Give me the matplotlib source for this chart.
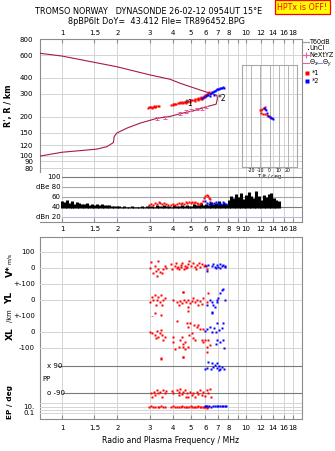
import numpy as np
import matplotlib
matplotlib.use("Agg")
import matplotlib.pyplot as plt
from matplotlib.lines import Line2D
from matplotlib.transforms import blended_transform_factory as blend

W, H = 335, 451
RED, BLUE = "#ff0000", "#0000ff"
CRIMSON, PINK = "#a8194a", "#e8609c"
GRID, FRAME, DARK = "#d4d4d4", "#8c8c8c", "#7a7a7a"

# frequency axis
freq_ticks = [1, 1.5, 2, 3, 4, 5, 6, 7, 8, 9, 10, 12, 14, 16, 18]
freq_labels = ["1", "1.5", "2", "3", "4", "5", "6", "7", "8", "", "10", "12", "14", "16", "18"]
amp_freq_labels = ["1", "1.5", "2", "3", "4", "5", "6", "7", "8", "9", "10", "12", "14", "16", "18"]
height_ticks = [80, 90, 100, 120, 150, 200, 300, 400, 600, 800]

# model profile (lower trace up to the nose, back along the upper trace)
model_f = [0.759, 1.0, 1.54, 1.75, 1.90, 1.92, 1.98, 2.25, 2.65, 3.27, 3.86, 4.38, 5.17, 6.11,
           6.87, 6.98, 6.93, 6.37, 5.62, 4.38, 3.86, 3.01, 1.98, 1.0, 0.759]
model_h = [99, 106, 112, 117, 126, 140, 149, 163, 178, 194, 201, 211, 222, 239,
           250, 277, 293, 304, 322, 363, 390, 421, 488, 590, 620]

nexyz_f = [3.28, 3.63, 4.38, 4.69, 5.02, 5.44, 5.77, 6.06]
nexyz_h = [194, 198, 212, 219, 225, 229, 232, 239]

# echo traces, virtual range (km)
x1_f = [2.93, 2.99, 3.05, 3.12, 3.18, 3.24, 3.31, 3.38, 3.92, 3.98, 4.06, 4.15, 4.24, 4.32,
        4.40, 4.48, 4.57, 4.66, 4.75, 4.84, 4.93, 5.02, 5.11, 5.20, 5.30, 5.40, 5.50, 5.60,
        5.70, 5.80, 5.90, 6.00, 6.10, 6.20, 6.30, 5.45, 5.65, 5.85, 5.25, 4.95,
        2.96, 3.09, 3.15, 3.21, 4.02, 4.11, 4.36, 4.52, 4.71, 5.55, 5.75, 5.95, 6.05]
x1_h = [235, 236, 238, 239, 238, 240, 241, 240, 247, 248, 251, 253, 254, 256,
        257, 258, 260, 260, 262, 263, 265, 267, 268, 270, 272, 274, 277, 279,
        282, 286, 290, 295, 301, 307, 311, 268, 273, 281, 264, 261,
        238, 235, 241, 237, 250, 249, 259, 255, 257, 272, 276, 284, 292]
x2_f = [5.77, 5.91, 6.06, 6.14, 6.24, 6.33, 6.45, 6.53, 6.62, 6.70, 6.78, 6.87, 6.96, 7.04,
        7.13, 7.22, 7.31, 7.40, 7.50, 7.60, 6.40, 6.65]
x2_h = [279, 285, 289, 292, 296, 300, 305, 308, 311, 314, 317, 322, 326, 329,
        330, 332, 334, 335, 337, 336, 291, 297]

# tilt inset
tilt1_deg = [-10.5, -9.5, -8, -6.5, -5, -9, -7, -5, -3, -1, 0.5]
tilt1_h = [224, 226, 229, 233, 237, 214, 211, 209, 206, 202, 199]
tilt2_deg = [-5.6, -4, -3, -1.3, 1.6, 4, -4.5, 0.2, 2.8]
tilt2_h = [235, 225, 212, 202, 197, 191, 231, 200, 194]

# echo amplitude (dB)
amp_f = np.geomspace(1, 15, 88)
amp_db = [52, 50, 54, 48, 53, 47, 51, 49,
          47, 46, 48, 45, 47, 44, 46, 45, 46, 44, 45, 44,
          43, 42, 43, 42, 41, 42, 41, 41, 42, 40, 41, 41, 42, 41, 42,
          42, 43, 41, 44, 42, 43, 45, 42, 43, 41, 44, 43, 42, 45, 43, 44, 42, 43, 46, 44, 45,
          48, 44, 47, 45, 50, 46, 48, 52, 47, 49, 46,
          55, 62, 58, 66, 60, 68, 57, 64, 70, 62, 59, 72, 61, 55, 64, 60, 66, 67, 58, 54, 52]
amp1_f = [2.98, 3.05, 3.12, 3.2, 3.28, 3.35, 3.42, 3.5, 3.58, 3.66, 3.75, 3.9, 4.0, 4.1, 4.2,
          4.3, 4.4, 4.5, 4.6, 4.7, 4.8, 4.9, 5.0, 5.1, 5.2, 5.3, 5.4, 5.5, 5.6, 5.7, 5.8, 5.9,
          6.0, 6.1, 6.2, 6.3, 6.4]
amp1_db = [44, 46, 45, 48, 47, 50, 48, 46, 49, 47, 45, 44, 46, 45, 47,
           48, 46, 49, 47, 50, 48, 51, 49, 50, 48, 50, 49, 47, 46, 49, 53, 58,
           61, 63, 62, 59, 56]
amp2_f = [6.0, 6.1, 6.25, 6.4, 6.55, 6.7, 6.85, 7.0, 7.15, 7.3, 7.45, 7.6, 7.75]
amp2_db = [52, 49, 47, 50, 46, 48, 51, 47, 49, 46, 50, 48, 47]

# Doppler velocity V* (m/s)
v1_f = [3.05, 3.01, 3.20, 3.24, 3.33, 3.41, 3.54, 3.68, 3.27, 3.50, 3.12, 3.31, 3.63,
        3.93, 3.96, 4.17, 4.27, 4.31, 4.44, 4.48, 4.66, 4.74, 4.86, 4.90, 4.99, 5.12, 5.25,
        5.38, 5.51, 5.62, 5.76, 5.90, 4.12, 4.41, 4.58, 4.80, 4.23, 5.33, 6.00, 6.14]
v1 = [41, 0, 14, -15, -6, -21, -6, 0, -46, -27, -31, 47, 14,
      27, -6, 31, 10, -6, 21, 35, 14, 0, 27, 47, 14, 31, 6,
      21, 35, 10, 27, 14, 14, 10, -6, 10, 0, -6, 21, -6]
v2_f = [6.06, 6.24, 6.14, 6.50, 6.62, 6.78, 6.92, 7.05, 7.22, 7.35, 7.50, 7.65, 6.86, 7.24, 7.70]
v2 = [14, 21, -15, 14, 27, 10, 21, 6, 27, 14, 21, 10, 0, 0, 14]

# echo location YL (km)
yl1_f = [3.01, 3.07, 3.20, 3.27, 3.34, 3.41, 3.44, 3.48, 3.24, 3.11, 3.55, 3.63, 4.02, 4.20,
         4.29, 4.38, 4.47, 4.52, 4.60, 4.72, 4.82, 4.86, 4.96, 5.07, 5.17, 5.28, 5.39, 5.50,
         5.62, 5.74, 5.86, 6.23, 6.10, 3.07, 3.20, 3.44, 3.55, 4.86, 4.56]
yl1 = [-11, 21, 32, 4, 21, -11, 32, -32, -32, 4, 0, 11, 4, -11,
       -32, -4, -21, 49, 4, -11, -42, 0, -17, -4, 11, -11, 4, -32,
       -4, -25, 11, 42, -11, -106, -84, -95, -116, -70, 53]
yl2_f = [6.10, 6.37, 6.50, 6.64, 6.78, 6.93, 7.07, 7.22, 7.37, 7.53, 7.69, 6.98, 6.50, 6.56]
yl2 = [-32, 0, -11, -32, -42, -11, 11, 42, 63, 68, 0, 0, -84, -74]

# echo location XL (km)
xl1_f = [3.01, 3.07, 3.20, 3.27, 3.34, 3.41, 3.44, 3.48, 3.63, 3.24, 3.52, 3.44, 4.02, 4.02,
         4.23, 4.38, 4.47, 4.52, 4.56, 4.66, 4.76, 4.86, 4.92, 4.96, 5.07, 5.13, 5.22, 5.28,
         5.39, 5.50, 5.62, 5.74, 5.86, 5.98, 6.10, 6.23, 4.56, 4.66, 4.86, 6.37, 5.81, 4.29, 4.11]
xl1 = [2, -8, -19, 8, -30, -8, 13, -19, -30, -40, -51, -166, -30, -61,
       70, -51, -30, -93, -72, -61, 55, 34, -19, 55, -8, -40, 44, -51,
       30, 44, 17, -51, -61, -51, -93, -51, -156, -103, -93, -82, 17, -93, -103]
xl2_f = [5.98, 6.10, 6.37, 6.50, 6.70, 6.87, 6.98, 7.13, 7.37, 7.48, 6.93, 7.22, 7.53, 7.59, 6.87]
xl2 = [8, 17, 30, 2, 23, 2, 55, 13, 23, 55, -51, -61, -51, -97, -72]

# polarization PP (deg)
pp1_f = [3.44, 4.52, 6.10,
         3.04, 3.16, 3.20, 3.27, 3.34, 3.41, 3.48, 3.55, 3.63, 3.68, 3.96, 4.02, 4.20, 4.29,
         4.38, 4.47, 4.56, 4.66, 4.76, 4.86, 4.96, 5.07, 5.17, 5.28, 5.39, 5.50, 5.62, 5.74,
         5.86, 5.98, 6.10, 6.23, 6.37, 6.42, 4.34, 4.72, 3.07]
pp1 = [137, 147, 179,
       -90, -80, -101, -69, -90, -80, -112, -69, -90, -73, -73, -90, -69, -80,
       -64, -95, -80, -69, -90, -112, -80, -101, -88, -112, -80, -95, -69, -101,
       -80, -107, -69, -90, -64, -112, -101, -112, -112]
pp2_f = [5.98, 6.10, 6.17, 6.50, 6.64, 6.78, 6.93, 6.98, 7.13, 7.24, 7.40, 7.59, 7.09, 6.47]
pp2 = [65, 72, 115, 104, 82, 93, 72, 104, 87, 65, 78, 67, 61, 65]

# elevation EP (deg)
ep1_f = [2.97, 3.05, 3.12, 3.2, 3.3, 3.38, 3.45, 3.55, 3.62, 3.92, 4.0, 4.1, 4.2, 4.3, 4.4,
         4.5, 4.6, 4.7, 4.8, 4.9, 5.0, 5.1, 5.2, 5.3, 5.4, 5.5, 5.6, 5.7, 5.8, 5.9, 6.0,
         6.1, 6.2]
ep1 = [10, 12, 9, 11, 8, 10, 13, 9, 11, 10, 12, 9, 11, 10, 8,
       12, 10, 11, 9, 10, 12, 8, 10, 11, 9, 13, 10, 8, 11, 9, 6,
       4, 7]
ep2_f = [5.95, 6.05, 6.15, 6.3, 6.45, 6.6, 6.75, 6.9, 7.05, 7.2, 7.35, 7.5, 7.65, 7.8]
ep2 = [14, 12, 16, 13, 11, 14, 12, 13, 15, 12, 14, 13, 12, 14]

FMIN, FMAX = 0.759, 20.1
plt.rcParams["font.family"] = ["DejaVu Sans"]

fig = plt.figure(figsize=(W / 100, H / 100), dpi=100)


def px_axes(x0, y0, x1, y1):
    return fig.add_axes([x0 / W, 1 - y1 / H, (x1 - x0) / W, (y1 - y0) / H])


def fx(x):
    return x / W


def fy(y):
    return 1 - y / H


def freq_axis(ax):
    ax.set_xscale("log")
    ax.set_xlim(FMIN, FMAX)
    ax.xaxis.set_minor_locator(plt.NullLocator())
    ax.set_xticks(freq_ticks)
    for f in freq_ticks:
        ax.axvline(f, color=GRID, lw=0.7, zorder=0)


def strip(ax):
    ax.set_facecolor("none")
    ax.set_xscale("log")
    ax.set_xlim(FMIN, FMAX)
    ax.axis("off")


dots = dict(ls="none", marker="s", ms=1.6, mec="none")

# ---- header ----
fig.text(fx(149), fy(12), "TROMSO NORWAY   DYNASONDE 26-02-12 0954UT 15°E",
         ha="center", va="center", fontsize=5.9)
fig.text(fx(156), fy(21), "8pBP6It DoY=  43.412 File= TR896452.BPG",
         ha="center", va="center", fontsize=5.9)
fig.text(fx(302.5), fy(7.3), "HPTx is OFF!", ha="center", va="center", fontsize=5.8,
         color=RED, bbox=dict(boxstyle="square,pad=0.3", fc="#ffff00", ec=RED, lw=0.9))

# ---- range panel ----
ax_h = px_axes(40, 39, 302, 172)
freq_axis(ax_h)
ax_h.set_yscale("log")
ax_h.set_ylim(74.5, 800)
ax_h.set_yticks(height_ticks)
ax_h.set_yticklabels([str(v) for v in height_ticks])
ax_h.yaxis.set_minor_locator(plt.NullLocator())
for v in height_ticks:
    ax_h.axhline(v, color=GRID, lw=0.7, zorder=0)
ax_h.xaxis.set_ticks_position("top")
ax_h.set_xticklabels(freq_labels)
ax_h.tick_params(axis="x", direction="in", length=3, color=FRAME, labelsize=5, pad=2)
ax_h.tick_params(axis="y", length=0, labelsize=5, pad=5)
for side in ("top", "left", "right"):
    ax_h.spines[side].set_color(FRAME)
    ax_h.spines[side].set_linewidth(0.8)
ax_h.spines["bottom"].set_visible(False)
ax_h.set_ylabel("R', R / km", fontsize=5.8, fontweight="bold", labelpad=5)

ax_h.plot(model_f, model_h, color=CRIMSON, lw=0.8, zorder=3)
ax_h.errorbar(nexyz_f, nexyz_h, yerr=[[5] * len(nexyz_h), [5] * len(nexyz_h)], fmt="none",
              ecolor=PINK, elinewidth=0.7, capsize=1.3, capthick=0.7, zorder=4)
ax_h.plot(x1_f, x1_h, color=RED, zorder=5, **dots)
ax_h.plot(x2_f, x2_h, color=BLUE, zorder=5, **dots)
ax_h.text(4.62, 255, "*1", fontsize=5.5, va="center", zorder=6)
ax_h.text(6.98, 278, "*2", fontsize=5.5, va="center", zorder=6)

# tilt inset
ax_t = px_axes(242, 65, 297, 167.3)
ax_t.set_facecolor("none")
ax_t.set_xlim(-30, 30)
ax_t.set_yscale("log")
ax_t.set_ylim(81, 503)
ax_t.set_yticks([])
ax_t.yaxis.set_minor_locator(plt.NullLocator())
ax_t.set_xticks([-20, -10, 0, 10, 20])
ax_t.set_xticklabels(["-20", "-10", "0", "10", "20"])
ax_t.tick_params(axis="x", length=0, labelsize=3.3, pad=0.8)
for t in (-20, -10, 0, 10, 20):
    ax_t.axvline(t, color="#b4b4b4", lw=0.7, zorder=0)
for s in ax_t.spines.values():
    s.set_color("#a8a8a8")
    s.set_linewidth(0.8)
ax_t.set_xlabel("Tilt / deg", fontsize=3.8, labelpad=0.3)
ax_t.plot(tilt1_deg, tilt1_h, color=RED, **dots)
ax_t.plot(tilt2_deg, tilt2_h, color=BLUE, **dots)

# ---- amplitude panel ----
ax_a = px_axes(40, 172, 302, 222)
freq_axis(ax_a)
ax_a.set_facecolor("none")
ax_a.set_ylim(10.74, 109.26)
ax_a.set_yticks([])
ax_a.set_xticklabels(amp_freq_labels)
ax_a.tick_params(axis="x", direction="in", length=3, color=FRAME, labelsize=5, pad=3)
for side in ("top", "left"):
    ax_a.spines[side].set_visible(False)
for side in ("right", "bottom"):
    ax_a.spines[side].set_color(FRAME)
    ax_a.spines[side].set_linewidth(0.8)
x_in = (62 - 40) / 262
for v, c in [(100, DARK), (80, "#a8a8a8"), (60, "#a8a8a8"), (40, DARK), (20, "#b8b8ec")]:
    ax_a.axhline(v, xmin=x_in, xmax=1, color=c, lw=0.8, zorder=1)
lab_tr = blend(ax_a.transAxes, ax_a.transData)
for v, s in [(100, "100"), (80, "dBe 80"), (60, "60"), (40, "40"), (20, "dBn 20")]:
    ax_a.text(x_in - 0.005, v, s, transform=lab_tr, ha="right", va="center", fontsize=5)
ax_a.vlines(amp_f, 39, amp_db, color="black", lw=2.2, zorder=2)
ax_a.plot(amp1_f, amp1_db, color=RED, zorder=3, **dots)
ax_a.plot(amp2_f, amp2_db, color=BLUE, zorder=3, **dots)

# ---- legend ----
leg = [
    (42, "line", "#a0a0a0", "T60dB"),
    (48.5, "dot", "black", "UnCl"),
    (55, "plus", PINK, "NeXtYZ"),
    (72.7, "sq", RED, "*1"),
    (80.7, "sq", BLUE, "*2"),
]
for y, kind, col, lab in leg:
    if kind == "line":
        fig.add_artist(Line2D([fx(303), fx(309)], [fy(y)] * 2, color=col, lw=0.9))
    elif kind == "dot":
        fig.add_artist(Line2D([fx(308)], [fy(y)], ls="none", marker="s", ms=0.8, color=col, mec="none"))
    elif kind == "plus":
        fig.add_artist(Line2D([fx(303), fx(309)], [fy(y)] * 2, color=col, lw=0.7))
        fig.add_artist(Line2D([fx(306)], [fy(y)], ls="none", marker="+", ms=4, mew=0.8, color=col))
    else:
        fig.add_artist(Line2D([fx(307)], [fy(y)], ls="none", marker="s", ms=2.6, color=col, mec="none"))
    fig.text(fx(312 if kind == "sq" else 309.5), fy(y), lab, fontsize=4.7, va="center")
fig.add_artist(Line2D([fx(302), fx(308.5)], [fy(63.3)] * 2, color=PINK, lw=0.8))
fig.text(fx(309), fy(63.3), r"$\Theta_x$", fontsize=4.7, va="center")
fig.add_artist(Line2D([fx(316.5), fx(322)], [fy(63.3)] * 2, color="#8c8cf0", lw=0.8))
fig.text(fx(322.5), fy(63.3), r"$\Theta_y$", fontsize=4.7, va="center")

# ---- lower panel frame ----
ax_b = px_axes(40, 237, 302, 419)
freq_axis(ax_b)
ax_b.set_ylim(0, 1)
ax_b.set_yticks([])
ax_b.set_xticklabels(freq_labels)
ax_b.tick_params(axis="x", direction="in", length=3, color=FRAME, labelsize=5, pad=4)
for s in ax_b.spines.values():
    s.set_color(FRAME)
    s.set_linewidth(0.8)
ax_b.set_xlabel("Radio and Plasma Frequency / MHz", fontsize=5.6, labelpad=4)


def left_labels(ax, items, x=-0.02, size=5):
    tr = blend(ax.transAxes, ax.transData)
    for v, s in items:
        ax.text(x, v, s, transform=tr, ha="right", va="center", fontsize=size)


ax_v = px_axes(40, 237, 302, 284.3)
strip(ax_v)
ax_v.set_ylim(-100, 195.6)
for v in (100, 0):
    ax_v.axhline(v, color=GRID, lw=0.7, zorder=0)
left_labels(ax_v, [(100, "100"), (0, "0"), (-100, "+-100")])
ax_v.plot(v1_f, v1, color=RED, **dots)
ax_v.plot(v2_f, v2, color=BLUE, **dots)

ax_yl = px_axes(40, 284.3, 302, 316)
strip(ax_yl)
ax_yl.set_ylim(-100, 100)
for v in (100, 0, -100):
    ax_yl.axhline(v, color=GRID, lw=0.7, zorder=0)
left_labels(ax_yl, [(0, "0"), (-100, "+-100")])
ax_yl.plot(yl1_f, yl1, color=RED, **dots)
ax_yl.plot(yl2_f, yl2, color=BLUE, **dots)

ax_xl = px_axes(40, 316, 302, 365)
strip(ax_xl)
ax_xl.set_ylim(-206, 100)
for v in (0, -100):
    ax_xl.axhline(v, color=GRID, lw=0.7, zorder=0)
left_labels(ax_xl, [(0, "0"), (-100, "-100")])
ax_xl.plot(xl1_f, xl1, color=RED, **dots)
ax_xl.plot(xl2_f, xl2, color=BLUE, **dots)

ax_pp = px_axes(40, 350, 302, 400)
strip(ax_pp)
ax_pp.set_ylim(-133.4, 190.4)
ax_pp.axhline(90, xmin=(58 - 40) / 262, color=DARK, lw=0.8, zorder=0)
ax_pp.axhline(-90, xmin=(63 - 40) / 262, color=DARK, lw=0.8, zorder=0)
pp_tr = blend(ax_pp.transAxes, ax_pp.transData)
ax_pp.text(6.7 / 262, 90, "x 90", transform=pp_tr, va="center", fontsize=5)
ax_pp.text(2.7 / 262, 0, "PP", transform=pp_tr, va="center", fontsize=5)
ax_pp.text(6.7 / 262, -90, "o -90", transform=pp_tr, va="center", fontsize=5)
ax_pp.plot(pp1_f, pp1, color=RED, **dots)
ax_pp.plot(pp2_f, pp2, color=BLUE, **dots)

ax_ep = px_axes(40, 400, 302, 419)
strip(ax_ep)
ax_ep.set_yscale("log")
ax_ep.set_ylim(1.87e-3, 1072)
for v in (100, 10, 1, 0.1):
    ax_ep.axhline(v, color=GRID, lw=0.7, zorder=0)
left_labels(ax_ep, [(10, "10."), (0.1, "0.1")])
ax_ep.plot(ep1_f, ep1, color=RED, **dots)
ax_ep.plot(ep2_f, ep2, color=BLUE, **dots)

# side labels of the lower panel
fig.text(fx(10), fy(271), "V*", rotation=90, ha="center", va="center", fontsize=6.5, fontweight="bold")
fig.text(fx(10), fy(258), "m/s", rotation=90, ha="center", va="center", fontsize=4.3)
fig.text(fx(10), fy(298), "YL", rotation=90, ha="center", va="center", fontsize=6.5, fontweight="bold")
fig.text(fx(10), fy(316), "/km", rotation=90, ha="center", va="center", fontsize=4.8)
fig.text(fx(10), fy(334), "XL", rotation=90, ha="center", va="center", fontsize=6.5, fontweight="bold")
fig.text(fx(10), fy(401.7), "EP / deg", rotation=90, ha="center", va="center", fontsize=5.3,
         fontweight="bold")

fig.savefig("out.png", dpi=100)
